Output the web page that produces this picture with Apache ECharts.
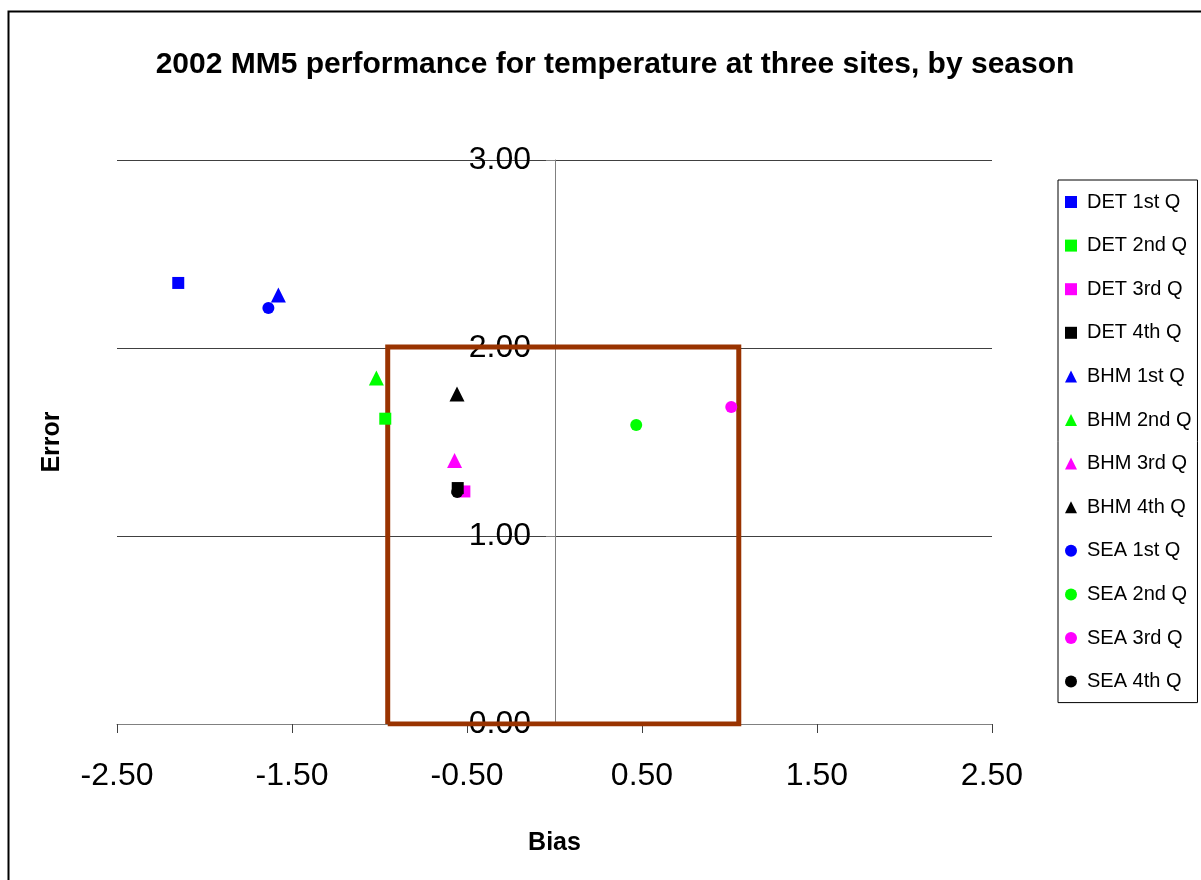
<!DOCTYPE html>
<html>
<head>
<meta charset="utf-8">
<script src="https://cdn.jsdelivr.net/npm/echarts@6/dist/echarts.min.js"></script>
<style>
html,body{margin:0;padding:0;background:#fff;}
#chart{width:1201px;height:880px;}
</style>
</head>
<body>
<div id="chart"></div>
<script>
const seriesNames = ['DET 1st Q','DET 2nd Q','DET 3rd Q','DET 4th Q','BHM 1st Q','BHM 2nd Q','BHM 3rd Q','BHM 4th Q','SEA 1st Q','SEA 2nd Q','SEA 3rd Q','SEA 4th Q'];
const biasValues  = [-2.150, -0.967, -0.515, -0.553, -1.578, -1.018, -0.571, -0.557, -1.635, 0.467, 1.010, -0.556];
const errorValues = [ 2.346,  1.624,  1.237,  1.255,  2.282,  1.840,  1.401,  1.755,  2.213, 1.590, 1.686,  1.234];
const seriesColors = ['#0000FF','#00FF00','#FF00FF','#000000','#0000FF','#00FF00','#FF00FF','#000000','#0000FF','#00FF00','#FF00FF','#000000'];
const seriesSymbols = ['rect','rect','rect','rect','triangle','triangle','triangle','triangle','circle','circle','circle','circle'];
const boxBias  = [-0.953, -0.953, 1.053, 1.053, -0.953];
const boxError = [0, 2.005, 2.005, 0, 0];
const xTicks = { min: -2.5, max: 2.5, interval: 1 };
const yTicks = { min: 0, max: 3, interval: 1 };

const chart = echarts.init(document.getElementById('chart'));
const font = 'Liberation Sans, Arial, sans-serif';
const symSize = { rect: 12, triangle: 15, circle: 12 };

const series = seriesNames.map((n, i) => ({
  name: n,
  type: 'scatter',
  symbol: seriesSymbols[i],
  symbolSize: symSize[seriesSymbols[i]],
  itemStyle: { color: seriesColors[i], opacity: 1 },
  z: 5,
  data: [[biasValues[i], errorValues[i]]]
}));
series.push({
  name: 'box',
  type: 'line',
  symbol: 'none',
  silent: true,
  z: 4,
  lineStyle: { color: '#993300', width: 5, join: 'miter' },
  data: boxBias.map((b, i) => [b, boxError[i]])
});

// plot geometry
const gridLeft = 117, gridRight = 992;
// shift the y axis onto bias = 0
const yAxisOffset = -Math.round((0 - xTicks.min) / (xTicks.max - xTicks.min) * (gridRight - gridLeft));

chart.setOption({
  animation: false,
  backgroundColor: '#fff',
  graphic: [{
    type: 'rect', left: 6, top: 9, silent: true,
    shape: { width: 1400, height: 1000 },
    style: { fill: 'none', stroke: '#000', lineWidth: 2 }
  }],
  title: {
    text: '2002 MM5 performance for temperature at three sites, by season',
    left: 610, top: 45, textAlign: 'center',
    textStyle: { fontFamily: font, fontWeight: 'bold', fontSize: 30, color: '#000' }
  },
  legend: {
    data: seriesNames,
    orient: 'vertical',
    left: 1058, top: 180,
    padding: [12, 6, 11, 7],
    itemWidth: 12, itemHeight: 12,
    itemGap: 23.6,
    borderColor: '#000', borderWidth: 1,
    textStyle: { fontFamily: font, fontSize: 20, color: '#000', width: 104, lineHeight: 20, padding: [0, 0, 0, 5] }
  },
  grid: { left: gridLeft, right: 1201 - gridRight, top: 160, bottom: 156, containLabel: false, outerBoundsMode: 'none' },
  xAxis: {
    type: 'value', min: xTicks.min, max: xTicks.max, interval: xTicks.interval,
    name: 'Bias', nameLocation: 'middle', nameGap: 107,
    nameTextStyle: { fontFamily: font, fontWeight: 'bold', fontSize: 25, color: '#000' },
    axisLine: { onZero: false, lineStyle: { color: '#808080', width: 1 } },
    axisTick: { show: true, inside: false, length: 9, lineStyle: { color: '#404040' } },
    axisLabel: { fontFamily: font, fontSize: 32, color: '#000', margin: 36, formatter: v => v.toFixed(2) },
    splitLine: { show: false }
  },
  yAxis: {
    type: 'value', min: yTicks.min, max: yTicks.max, interval: yTicks.interval,
    position: 'left', offset: yAxisOffset,
    name: 'Error', nameLocation: 'middle', nameGap: 490, nameRotate: 90,
    nameTextStyle: { fontFamily: font, fontWeight: 'bold', fontSize: 25, color: '#000' },
    axisLine: { show: true, onZero: false, lineStyle: { color: '#808080', width: 1 } },
    axisTick: { show: true, inside: false, length: 9, lineStyle: { color: '#808080' } },
    axisLabel: { fontFamily: font, fontSize: 32, color: '#000', margin: 24, formatter: v => v.toFixed(2) },
    splitLine: { show: true, lineStyle: { color: '#404040', width: 1 } }
  },
  series: series
});
</script>
</body>
</html>
